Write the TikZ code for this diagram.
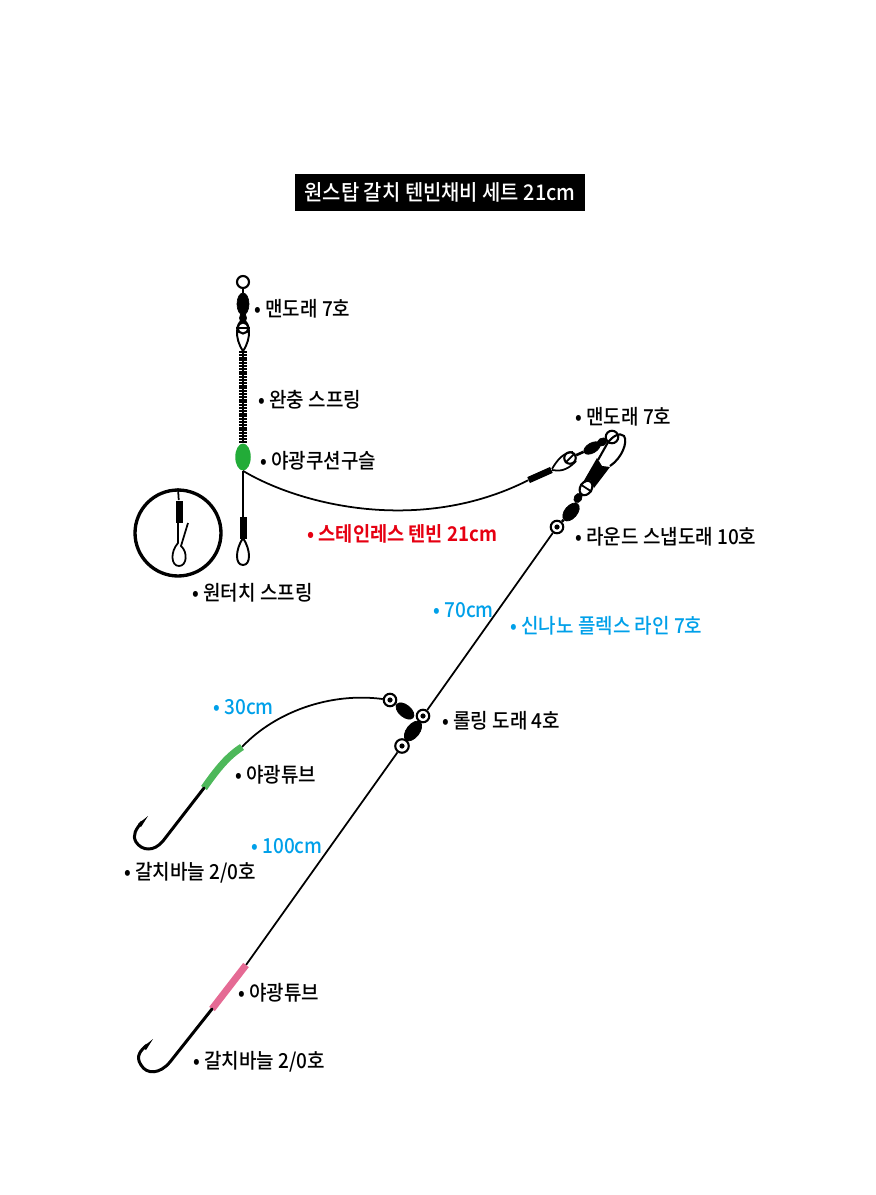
\documentclass[tikz,border=0pt]{standalone}
\usepackage{fontspec}
\setmainfont{Noto Sans CJK KR}[UprightFont=* Medium, BoldFont=* Bold, FakeStretch=0.92]
\usepackage{xcolor}
\usetikzlibrary{positioning,shapes.geometric}
\definecolor{labelblue}{HTML}{00A0E9}
\definecolor{labelred}{HTML}{E60012}
\definecolor{beadgreen}{HTML}{22AC38}
\definecolor{tubegreen}{HTML}{4DB85A}
\definecolor{tubepink}{HTML}{E56A94}

\begin{document}
\begin{tikzpicture}[
    x=0.02cm, y=-0.02cm,
    lab/.style={anchor=west, inner sep=0pt, font=\fontsize{11.75pt}{13pt}\selectfont},
    bluelab/.style={lab, text=labelblue},
    ring/.style={draw, circle, line width=1.2pt, inner sep=0pt, minimum size=0.25cm},
    barrel/.style={draw, fill=black, ellipse, inner sep=0pt, minimum width=0.42cm, minimum height=0.24cm},
    sleeve/.style={fill=black, inner sep=0pt, minimum width=0.5cm, minimum height=0.13cm},
    tube/.style={line width=4pt, line cap=butt},
    wire/.style={line width=1pt},
    hook/.style={line width=1.7pt, line cap=round}
]
\useasboundingbox (0,0) rectangle (875,1195);

% Title
\node[fill=black, text=white, minimum width=5.8cm, minimum height=0.74cm, inner sep=0pt,
      font=\fontsize{12.3pt}{14pt}\selectfont] (title) at (440,192.5) {원스탑 갈치 텐빈채비 세트 21cm};

% Upper swivel and spring
\node[ring, minimum size=0.24cm] (topring) at (243,282) {};
\node[barrel, rotate=90, minimum width=0.44cm] (topbarrel) at (243,304) {};
\node[barrel, rotate=90, minimum width=0.2cm, minimum height=0.14cm] (topsmall) at (243,318) {};
\node[ring, minimum size=0.22cm] (midring) at (243,328) {};
\coordinate (looptip) at (243,351);
\coordinate (springend) at (243,443);
\draw[wire, line width=1.6pt] (topring) -- (topbarrel) -- (topsmall) -- (midring);
\draw[wire] (midring.west) -- (midring.east);
\draw[wire, line width=1.1pt] (looptip) .. controls (234,338) and (236,322) .. (243,320)
    .. controls (250,322) and (252,338) .. (looptip);
\foreach \y in {352,354.8,...,443} {
    \draw[line width=1.2pt] (239,\y) -- (247,\y);
}
\draw[line width=1.6pt] (looptip) -- (springend);

% Bead and lower sleeve
\node[ellipse, fill=beadgreen, inner sep=0pt, minimum width=0.31cm, minimum height=0.54cm] (bead) at (243,457) {};
\node[sleeve, rotate=90, minimum width=0.44cm, minimum height=0.14cm] (lowsleeve) at (243,528) {};
\draw[wire] (bead) -- (lowsleeve);
\draw[wire, line width=1.1pt] (243,538) .. controls (235,550) and (235,565) .. (243,565)
    .. controls (251,565) and (251,550) .. (243,538);

% Detail circle
\node[draw, circle, line width=1.9pt, minimum size=1.72cm, inner sep=0pt] (detail) at (178,533) {};
\node[sleeve, rotate=90, minimum width=0.46cm, minimum height=0.15cm] (detailsleeve) at (179.5,512) {};
\draw[wire] (detail.north) -- (detailsleeve);
\draw[wire] (178,522) -- (178,543) .. controls (170,552) and (171,566) .. (179,566)
    .. controls (187,566) and (188,552) .. (181,546) -- (188,523);

% Stainless tenbin
\node[sleeve, rotate=24] (binsleeve) at (540,475) {};
\node[ring, minimum size=0.23cm] (binring) at (570,458) {};
\node[barrel, rotate=30, minimum width=0.36cm, minimum height=0.2cm] (binbarrel) at (592,448) {};
\node[barrel, rotate=30, minimum width=0.2cm, minimum height=0.15cm] (binsmall) at (602,442) {};
\node[ring, minimum size=0.25cm] (snapring) at (612,437) {};
\draw[wire] (bead.south) .. controls (300,505) and (420,535) .. (binsleeve.west);
\draw[wire, line width=1.5pt] (binring) -- (binbarrel) -- (binsmall) -- (snapring);
\draw[wire] (binring.south west) -- (binring.north east);
\draw[wire] (552,469) .. controls (557,460) and (564,452) .. (573,452);
\draw[wire] (552,470) .. controls (558,471) and (566,472) .. (576,461);

% Round snap swivel
\node[ring, minimum size=0.25cm] (mainring) at (557,527) {};
\node[barrel, rotate=50, minimum width=0.42cm, minimum height=0.25cm] (snapbarrel) at (571,512) {};
\node[barrel, rotate=60, minimum width=0.2cm, minimum height=0.15cm] (snapsmall) at (578,498) {};
\node[ring, ellipse, rotate=57, minimum width=0.31cm, minimum height=0.23cm] (ovalring) at (586,488) {};
\draw[wire, line width=1.5pt] (mainring) -- (snapbarrel) -- (snapsmall) -- (ovalring);
\draw[wire] (ovalring.north) -- (ovalring.south);
\fill (582,484) -- (597,458) -- (602,466) -- (610,467) -- (594,488) -- (590,480) -- cycle;
\draw[wire, line width=1.2pt] (598,460) -- (607,444) .. controls (612,436) and (620,432) .. (624,436)
    .. controls (628,442) and (622,458) .. (610,466);

% Rolling swivel
\node[ring] (leftring) at (390,700) {};
\node[ring] (rightring) at (423,716) {};
\node[ring, minimum size=0.27cm] (downring) at (402,746) {};
\node[barrel, rotate=-40] (leftbarrel) at (405,711) {};
\node[barrel, rotate=52, minimum width=0.46cm, minimum height=0.26cm] (downbarrel) at (413,731) {};
\draw[wire] (mainring) -- (rightring);
\draw[wire] (leftring) -- (leftbarrel);
\draw[wire, line width=1.5pt] (rightring) -- (downbarrel) -- (downring);
\foreach \p in {leftring,rightring,downring,mainring} {
    \fill (\p) circle (2.6);
}

% Upper hook
\coordinate (tubeAtop) at (242,747);
\coordinate (tubeAend) at (204,788);
\coordinate (hookAtip) at (148,816);
\draw[wire] (leftring) .. controls (330,692) and (275,712) .. (tubeAtop);
\draw[tube, tubegreen] (tubeAtop) .. controls (228,756) and (218,768) .. (tubeAend);
\draw[hook] (tubeAend) -- (163,841) .. controls (154,852) and (142,851) .. (136,842)
    .. controls (132,835) and (136,829) .. (142,822);
\fill (hookAtip) -- (138,824) -- (141,827) -- cycle;

% Lower hook
\coordinate (tubeBtop) at (246,965);
\coordinate (tubeBend) at (212,1009);
\coordinate (hookBtip) at (153,1039);
\draw[wire] (downring) -- (tubeBtop);
\draw[tube, tubepink] (tubeBtop) -- (tubeBend);
\draw[hook] (tubeBend) -- (170,1062) .. controls (160,1074) and (147,1075) .. (141,1065)
    .. controls (135,1056) and (141,1050) .. (147,1045);
\fill (hookBtip) -- (143,1047) -- (146,1050) -- cycle;

% Labels
\node[lab] (l1) at (254,309) {• 맨도래 7호};
\node[lab] (l2) at (258,400) {• 완충 스프링};
\node[lab] (l3) at (260,461) {• 야광쿠션구슬};
\node[lab, text=labelred, font=\fontsize{11.55pt}{13pt}\selectfont\bfseries] (l4) at (307,534) {• 스테인레스 텐빈 21cm};
\node[lab] (l5) at (192,593) {• 원터치 스프링};
\node[lab] (l6) at (575,417) {• 맨도래 7호};
\node[lab] (l7) at (575,537) {• 라운드 스냅도래 10호};
\node[bluelab] (l8) at (433,610) {• 70cm};
\node[bluelab] (l9) at (510,626) {• 신나노 플렉스 라인 7호};
\node[lab] (l10) at (442,721) {• 롤링 도래 4호};
\node[bluelab] (l11) at (213,707) {• 30cm};
\node[lab] (l12) at (235,775) {• 야광튜브};
\node[bluelab] (l13) at (251,846) {• 100cm};
\node[lab] (l14) at (124,873) {• 갈치바늘 2/0호};
\node[lab] (l15) at (238,993) {• 야광튜브};
\node[lab] (l16) at (193,1062) {• 갈치바늘 2/0호};
\end{tikzpicture}
\end{document}
